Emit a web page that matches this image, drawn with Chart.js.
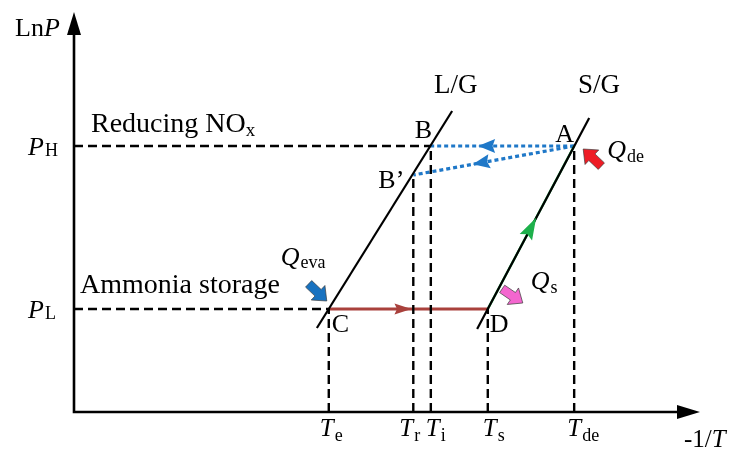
<!DOCTYPE html>
<html lang="en">
<head>
<meta charset="UTF-8">
<title>LnP vs -1/T</title>
<script src="https://cdn.jsdelivr.net/npm/chart.js"></script>
<style>
  html, body { margin: 0; padding: 0; background: #fff; }
  #wrap { width: 739px; height: 451px; }
</style>
</head>
<body>
<div id="wrap"><canvas id="c" width="739" height="451"></canvas></div>
<script>
// axes run 0..100 in both directions (schematic units)
const tickSubs = ['e', 'r', 'i', 's', 'de'];          // T_e, T_r ...
const tickX    = [40.7, 54.2, 57.0, 66.1, 79.9];
const tickTop  = [25.75, 59.25, 66.5, 25.75, 66.5];   // where each dashed drop line starts

const pSubs = ['H', 'L'];
const pY    = [66.5, 25.75];
const pEndX = [57.0, 40.7];                           // dashed guide ends at B / C

// equilibrium lines
const lgX = [38.8, 60.4], lgY = [21.0, 75.25];        // L/G
const sgX = [64.4, 82.3], sgY = [20.75, 73.5];        // S/G

// state points
const ptNames = ['A', 'B', 'B\u2019', 'C', 'D'];
const ptX = [79.9, 57.0, 54.2, 40.7, 66.1];
const ptY = [66.5, 66.5, 59.25, 25.75, 25.75];
const P = n => ({ x: ptX[ptNames.indexOf(n)], y: ptY[ptNames.indexOf(n)] });

const FONT = '"Liberation Serif", "Times New Roman", serif';
const BLACK = '#000';
const BLUE = '#1f78c8';
const GREEN = '#1db04b';
const BROWN = '#a9413c';

const dashed = { borderColor: BLACK, borderWidth: 2.4, borderDash: [9, 5] };
const dotted = { borderColor: BLUE, borderWidth: 3.2, borderDash: [4, 3] };

function seg(a, b, style) {
  return Object.assign({ data: [a, b], pointRadius: 0, showLine: true, fill: false, tension: 0 }, style);
}

const datasets = [];
pY.forEach((v, i) => datasets.push(seg({ x: 0, y: v }, { x: pEndX[i], y: v }, dashed)));
tickX.forEach((v, i) => datasets.push(seg({ x: v, y: 0 }, { x: v, y: tickTop[i] }, dashed)));
datasets.push(seg({ x: lgX[0], y: lgY[0] }, { x: lgX[1], y: lgY[1] }, { borderColor: BLACK, borderWidth: 2.2 }));
datasets.push(seg({ x: sgX[0], y: sgY[0] }, { x: sgX[1], y: sgY[1] }, { borderColor: BLACK, borderWidth: 2.2 }));
datasets.push(seg(P('C'), P('D'), { borderColor: BROWN, borderWidth: 2.8 }));
datasets.push(seg(P('D'), P('A'), { borderColor: GREEN, borderWidth: 2.4 }));
datasets.push(seg(P('A'), P('B'), dotted));
datasets.push(seg(P('A'), P('B\u2019'), dotted));

// arrowheads sitting on the process lines: [from, to, fraction of the way, colour]
const flowHeads = [
  ['A', 'B', 0.67, BLUE],
  ['A', 'B\u2019', 0.63, BLUE],
  ['C', 'D', 0.52, BROWN],
  ['D', 'A', 0.56, GREEN]
];

function tri(ctx, tx, ty, ang, len, half, color) {
  ctx.save();
  ctx.translate(tx, ty);
  ctx.rotate(ang);
  ctx.beginPath();
  ctx.moveTo(0, 0);
  ctx.lineTo(-len, -half);
  ctx.lineTo(-len * 0.85, 0);
  ctx.lineTo(-len, half);
  ctx.closePath();
  ctx.fillStyle = color;
  ctx.fill();
  ctx.restore();
}

function blockArrow(ctx, tx, ty, ang, color) {
  ctx.save();
  ctx.translate(tx, ty);
  ctx.rotate(ang);
  ctx.beginPath();
  ctx.moveTo(0, 0);
  ctx.lineTo(-12, -10);
  ctx.lineTo(-12, -4.5);
  ctx.lineTo(-25, -4.5);
  ctx.lineTo(-25, 4.5);
  ctx.lineTo(-12, 4.5);
  ctx.lineTo(-12, 10);
  ctx.closePath();
  ctx.fillStyle = color;
  ctx.fill();
  ctx.lineWidth = 0.8;
  ctx.strokeStyle = 'rgba(60,60,60,0.8)';
  ctx.stroke();
  ctx.restore();
}

// main text italic, subscript upright and smaller; 'main' align centres the first glyph
function sub(ctx, x, y, main, s, size, subSize, drop, align, italic) {
  const mf = (italic === false ? '' : 'italic ') + size + 'px ' + FONT;
  ctx.font = mf;
  const w1 = ctx.measureText(main).width;
  ctx.font = subSize + 'px ' + FONT;
  const w2 = ctx.measureText(s).width;
  let x0 = x;
  if (align === 'center') x0 = x - (w1 + w2) / 2;
  if (align === 'main') x0 = x - w1 / 2;
  ctx.font = mf;
  ctx.fillText(main, x0, y);
  ctx.font = subSize + 'px ' + FONT;
  ctx.fillText(s, x0 + w1 + (italic === false ? 0 : 1), y + drop);
}

const tickNudge = { e: -2, r: -7, i: 2, s: 2, de: 0 };

const annot = {
  id: 'annot',
  afterDatasetsDraw(chart) {
    const ctx = chart.ctx;
    const xs = chart.scales.x, ys = chart.scales.y;
    const px = v => xs.getPixelForValue(v);
    const py = v => ys.getPixelForValue(v);
    const x0 = px(0), y0 = py(0), xEnd = px(100), yEnd = py(100);

    ctx.save();
    // axes
    ctx.strokeStyle = BLACK;
    ctx.lineWidth = 2.6;
    ctx.beginPath();
    ctx.moveTo(x0, yEnd + 18);
    ctx.lineTo(x0, y0);
    ctx.lineTo(xEnd - 18, y0);
    ctx.stroke();
    ctx.fillStyle = BLACK;
    ctx.beginPath();
    ctx.moveTo(x0, yEnd); ctx.lineTo(x0 - 7, yEnd + 23); ctx.lineTo(x0 + 7, yEnd + 23); ctx.closePath(); ctx.fill();
    ctx.beginPath();
    ctx.moveTo(xEnd, y0); ctx.lineTo(xEnd - 23, y0 - 7); ctx.lineTo(xEnd - 23, y0 + 7); ctx.closePath(); ctx.fill();

    // flow arrowheads
    flowHeads.forEach(([a, b, f, col]) => {
      const A = P(a), B = P(b);
      const ax = px(A.x), ay = py(A.y), bx = px(B.x), by = py(B.y);
      const ang = Math.atan2(by - ay, bx - ax);
      if (col === GREEN) tri(ctx, ax + (bx - ax) * f, ay + (by - ay) * f, ang, 22, 7, col);
      else if (col === BROWN) tri(ctx, ax + (bx - ax) * f, ay + (by - ay) * f, ang, 17, 5.5, col);
      else tri(ctx, ax + (bx - ax) * f, ay + (by - ay) * f, ang, 17, 7, col);
    });

    // heat arrows
    const a = P('A'), c = P('C'), d = P('D');
    blockArrow(ctx, px(a.x) + 9, py(a.y) + 3, Math.atan2(-17, -18), '#ee1c25');
    blockArrow(ctx, px(c.x) - 2, py(c.y) - 8, Math.atan2(17, 18), '#1872c0');
    blockArrow(ctx, px(d.x) + 35, py(d.y) - 6, Math.atan2(13, 19), '#f466cf');

    // text
    ctx.fillStyle = BLACK;
    ctx.textBaseline = 'alphabetic';
    ctx.textAlign = 'left';

    ctx.font = '26px ' + FONT;
    ctx.fillText('Ln', 15, yEnd + 24);
    const wLn = ctx.measureText('Ln').width;
    ctx.font = 'italic 26px ' + FONT;
    ctx.fillText('P', 15 + wLn, yEnd + 24);

    pSubs.forEach((s, i) => sub(ctx, 28, py(pY[i]) + 9, 'P', s, 26, 18, 1, 'left'));

    tickSubs.forEach((s, i) => sub(ctx, px(tickX[i]) + tickNudge[s], y0 + 24, 'T', s, 25, 18, 5, 'main'));

    ctx.font = '25px ' + FONT;
    ctx.fillText('-1/', 684, y0 + 35);
    const w1 = ctx.measureText('-1/').width;
    ctx.font = 'italic 25px ' + FONT;
    ctx.fillText('T', 684 + w1, y0 + 35);

    // curve names
    ctx.font = '27px ' + FONT;
    ctx.fillText('L/G', 434, 93);
    ctx.fillText('S/G', 578, 93);

    // region labels
    sub(ctx, 91, py(pY[0]) - 14, 'Reducing NO', 'x', 28, 19, 4, 'left', false);
    ctx.font = '28px ' + FONT;
    ctx.fillText('Ammonia storage', 80, py(pY[1]) - 16);

    // point labels
    ctx.font = '26px ' + FONT;
    const off = {
      'A': [-19, -4], 'B': [-16, -8], 'B\u2019': [-35, 13], 'C': [3, 23], 'D': [2, 23]
    };
    ptNames.forEach((n, i) => {
      ctx.fillText(n, px(ptX[i]) + off[n][0], py(ptY[i]) + off[n][1]);
    });

    // heat labels
    sub(ctx, px(c.x) - 48, py(c.y) - 44, 'Q', 'eva', 26, 18, 3, 'left');
    sub(ctx, px(d.x) + 43, py(d.y) - 20, 'Q', 's', 26, 18, 4, 'left');
    sub(ctx, px(a.x) + 33, py(a.y) + 12, 'Q', 'de', 26, 18, 4, 'left');
    ctx.restore();
  }
};

new Chart(document.getElementById('c'), {
  type: 'scatter',
  data: { datasets },
  options: {
    responsive: false,
    animation: false,
    layout: { padding: { left: 74, right: 39, top: 12, bottom: 39 } },
    plugins: { legend: { display: false }, tooltip: { enabled: false } },
    scales: {
      x: { type: 'linear', min: 0, max: 100, display: false },
      y: { type: 'linear', min: 0, max: 100, display: false }
    }
  },
  plugins: [annot]
});
</script>
</body>
</html>
